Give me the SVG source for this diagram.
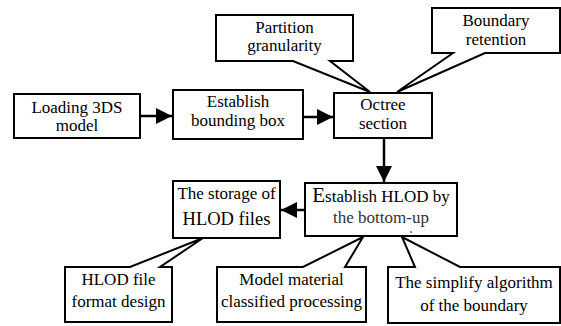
<svg xmlns="http://www.w3.org/2000/svg" width="561" height="326" viewBox="0 0 561 326">
<style>
.b{fill:#fff;stroke:#000;stroke-width:2}
.t{font-size:17px;fill:#000;text-anchor:middle}
.c{stroke:#000;stroke-width:2.5;fill:none}
</style>
<defs>
<marker id="ah" markerUnits="userSpaceOnUse" markerWidth="16" markerHeight="16" refX="16" refY="8" orient="auto">
<path d="M0,0 L16,8 L0,16 Z" fill="#000"/>
</marker>
</defs>
<rect width="561" height="326" fill="#fff"/>
<g id="connectors">
<line class="c" x1="140" y1="116" x2="172" y2="116" marker-end="url(#ah)"/>
<line class="c" x1="303" y1="117" x2="333" y2="117" marker-end="url(#ah)"/>
<line class="c" x1="384" y1="138" x2="384" y2="182" marker-end="url(#ah)"/>
<line class="c" x1="305" y1="210" x2="281" y2="210" marker-end="url(#ah)"/>
</g>
<g font-family="'Liberation Serif', 'Times New Roman', Times, serif">
<g id="loading">
<rect class="b" x="14" y="94" width="126" height="44"/>
<text class="t" x="77" y="113">Loading 3DS</text>
<text class="t" x="77" y="131">model</text>
</g>
<g id="bbox">
<rect class="b" x="173" y="90" width="130" height="49"/>
<text class="t" x="238" y="107">Establish</text>
<text class="t" x="238" y="126">bounding box</text>
</g>
<g id="octree">
<rect class="b" x="334" y="93" width="98" height="45"/>
<text class="t" x="383" y="110">Octree</text>
<text class="t" x="383" y="129">section</text>
</g>
<g id="partition">
<path class="b" d="M216,15 H353 V61 H330 L370,92 L293,61 H216 Z"/>
<text class="t" x="284.5" y="33">Partition</text>
<text class="t" x="284.5" y="51">granularity</text>
</g>
<g id="boundary">
<path class="b" d="M432,8 H560 V53 H485 L397,92 L453,53 H432 Z"/>
<text class="t" x="496" y="26">Boundary</text>
<text class="t" x="496" y="45">retention</text>
</g>
<g id="hlod">
<rect class="b" x="305" y="183" width="152" height="53"/>
<text class="t" x="381" y="202"><tspan style="font-size:21px">E</tspan>stablish HLOD by</text>
<text class="t" x="381" y="223" style="fill:#333">the bottom-up</text>
<circle cx="411" cy="232" r="0.8" fill="#000"/>
</g>
<g id="storage">
<rect class="b" x="173" y="181" width="107" height="57"/>
<text class="t" x="226.5" y="199">The storage of</text>
<text class="t" x="226.5" y="225" style="font-size:18.5px">HLOD files</text>
</g>
<g id="format">
<path class="b" d="M65,267 H130 L203,238 L160,267 H172 V322 H65 Z"/>
<text class="t" x="118.5" y="285">HLOD file</text>
<text class="t" x="118.5" y="307">format design</text>
</g>
<g id="material">
<path class="b" d="M217,267 H303 L363,237 L345,267 H366 V322 H217 Z"/>
<text class="t" x="291.5" y="285">Model material</text>
<text class="t" x="291.5" y="307">classified processing</text>
</g>
<g id="simplify">
<path class="b" d="M388,267 H415 L402,237 L460,267 H560 V323 H388 Z"/>
<text class="t" x="474" y="288">The simplify algorithm</text>
<text class="t" x="474" y="311">of the boundary</text>
</g>
</g>
</svg>
